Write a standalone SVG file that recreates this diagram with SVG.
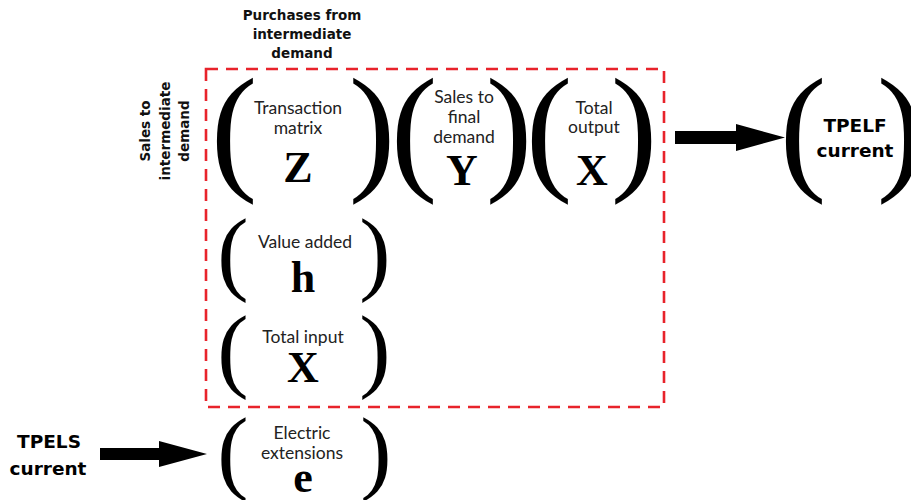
<svg xmlns="http://www.w3.org/2000/svg" width="911" height="500" viewBox="0 0 911 500">
  <style>
    .bg { fill: #ffffff; }
    .frame { fill: none; stroke: #e8232b; stroke-width: 2.6; stroke-dasharray: 12 8; }
    .paren-lg { font-family: "Liberation Serif", serif; font-size: 140px; fill: #000; text-anchor: middle; }
    .paren-sm { font-family: "Liberation Serif", serif; font-size: 94px; fill: #000; text-anchor: middle; }
    .sym { font-family: "Liberation Serif", serif; font-weight: bold; font-size: 44px; fill: #000; text-anchor: middle; }
    .lbl { font-family: Lato, "Open Sans", sans-serif; font-size: 17.5px; fill: #222; text-anchor: middle; }
    .head { font-family: "DejaVu Sans", sans-serif; font-weight: bold; font-size: 13.5px; fill: #111; text-anchor: middle; }
    .big { font-family: "DejaVu Sans", sans-serif; font-weight: bold; font-size: 18.5px; fill: #000; text-anchor: middle; }
    .arrow { fill: #000; }
  </style>

  <rect class="bg" x="0" y="0" width="911" height="500"/>

  <!-- axis headings -->
  <g id="heading-purchases">
    <text class="head" x="302" y="20">Purchases from</text>
    <text class="head" x="302" y="39">intermediate</text>
    <text class="head" x="302" y="58">demand</text>
  </g>
  <g id="heading-sales">
    <text class="head" transform="rotate(-90)" x="-131" y="150">Sales to</text>
    <text class="head" transform="rotate(-90)" x="-131" y="170">intermediate</text>
    <text class="head" transform="rotate(-90)" x="-131" y="189">demand</text>
  </g>

  <!-- input-output table boundary -->
  <rect id="io-table" class="frame" x="206" y="69" width="458" height="338"/>

  <!-- transaction matrix Z -->
  <g id="node-Z">
    <text class="paren-lg" x="234" y="175">(</text>
    <text class="paren-lg" x="372" y="175">)</text>
    <text class="lbl" x="298" y="114">Transaction</text>
    <text class="lbl" x="298" y="134">matrix</text>
    <text class="sym" x="298" y="182">Z</text>
  </g>

  <!-- final demand Y -->
  <g id="node-Y">
    <text class="paren-lg" x="414" y="175">(</text>
    <text class="paren-lg" x="509" y="175">)</text>
    <text class="lbl" x="464" y="103">Sales to</text>
    <text class="lbl" x="464" y="123">final</text>
    <text class="lbl" x="464" y="143">demand</text>
    <text class="sym" x="462" y="185">Y</text>
  </g>

  <!-- total output X -->
  <g id="node-X-output">
    <text class="paren-lg" x="549" y="175">(</text>
    <text class="paren-lg" x="634" y="175">)</text>
    <text class="lbl" x="594" y="114">Total</text>
    <text class="lbl" x="594" y="133">output</text>
    <text class="sym" x="592" y="185">X</text>
  </g>

  <!-- value added h -->
  <g id="node-h">
    <text class="paren-sm" x="233" y="283">(</text>
    <text class="paren-sm" x="375" y="283">)</text>
    <text class="lbl" x="305" y="248">Value added</text>
    <text class="sym" x="303" y="292">h</text>
  </g>

  <!-- total input X -->
  <g id="node-X-input">
    <text class="paren-sm" x="233" y="380">(</text>
    <text class="paren-sm" x="375" y="380">)</text>
    <text class="lbl" x="303" y="343">Total input</text>
    <text class="sym" x="303" y="382">X</text>
  </g>

  <!-- electric extensions e -->
  <g id="node-e">
    <text class="paren-sm" x="233" y="482">(</text>
    <text class="paren-sm" x="376" y="482">)</text>
    <text class="lbl" x="302" y="439">Electric</text>
    <text class="lbl" x="302" y="459">extensions</text>
    <text class="sym" x="303" y="492">e</text>
  </g>

  <!-- TPELF current -->
  <g id="node-TPELF">
    <text class="paren-lg" x="803" y="175">(</text>
    <text class="paren-lg" x="900" y="175">)</text>
    <text class="big" x="855" y="132">TPELF</text>
    <text class="big" x="855" y="157">current</text>
  </g>

  <!-- TPELS current -->
  <g id="node-TPELS">
    <text class="big" x="49" y="448">TPELS</text>
    <text class="big" x="48" y="475">current</text>
  </g>

  <!-- connectors -->
  <g id="connectors">
    <polygon class="arrow" points="675,131 736,131 736,124 785,137.5 736,151 736,144 675,144"/>
    <polygon class="arrow" points="100,448 159,448 159,441 207,454 159,467 159,460 100,460"/>
  </g>
</svg>
